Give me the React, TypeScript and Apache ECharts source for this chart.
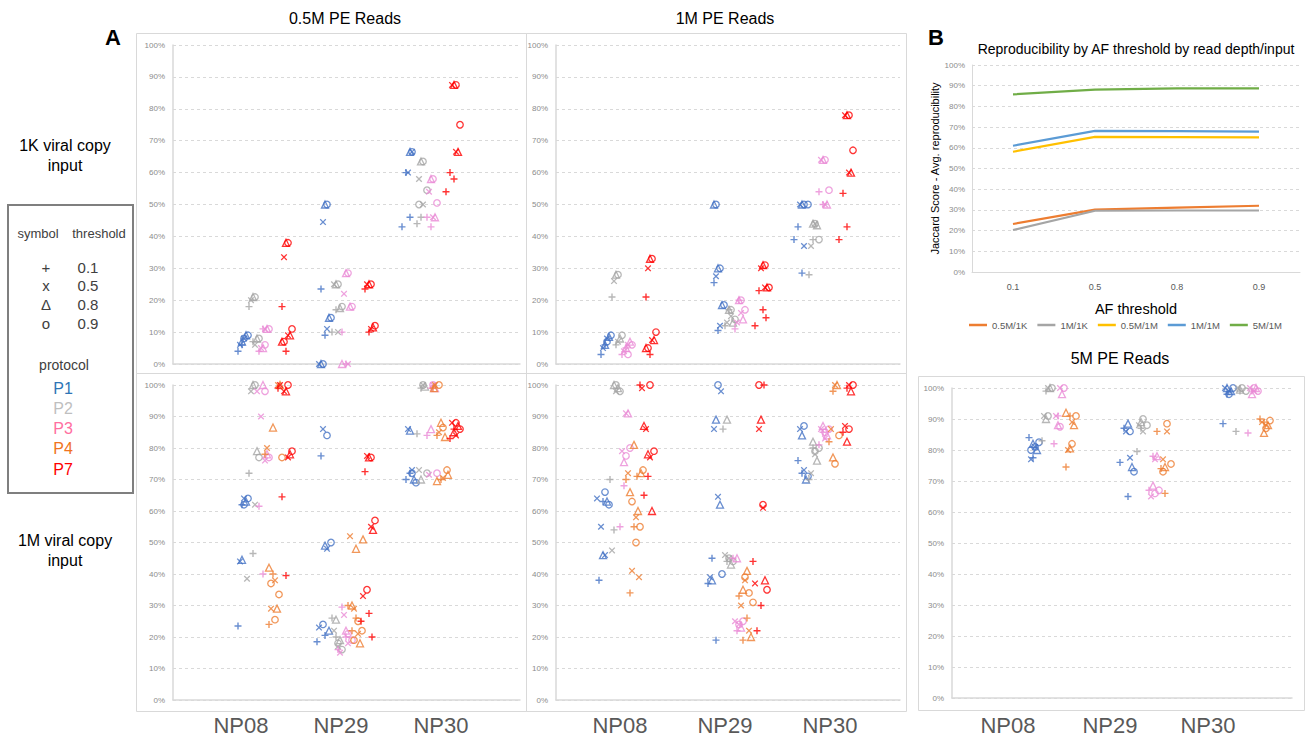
import React, { useEffect, useRef } from "react";
import * as echarts from "echarts";

const samples = ["NP08", "NP29", "NP30"];
const protocols = ["P1", "P2", "P3", "P4", "P7"];
const thresholds = ["0.1", "0.5", "0.8", "0.9"];

// Jaccard scores (%) — [sample][threshold: +,x,Δ,o] => replicate values
// 0.5M PE reads / 1K viral copy input
const pe05k_P1 = [
  [[4, 6], [6, 8], [7, 9], [8, 9]],
  [[23.5, 9], [44.5, 11, 0], [50, 14.5, 0], [50, 14.5, 0]],
  [[60, 46, 43], [60, 66.5], [66.5], [66.5]],
];
const pe05k_P2 = [
  [[18, 7], [20, 6], [21, 8], [21, 8]],
  [[10, 17], [25, 10], [25, 17.5], [25, 18]],
  [[44, 46], [58, 50], [63.5], [63.5, 54.5, 50]],
];
const pe05k_P3 = [
  [[4, 11], [5, 11], [5, 11], [6, 11]],
  [[10, 0], [22, 0], [28.5, 18, 0], [28.5, 18]],
  [[46, 43], [54, 46], [58, 46], [58, 50.5]],
];
const pe05k_P7 = [
  [[18, 4], [33.5, 9], [38, 9, 7], [38, 11, 7]],
  [[23.5, 10], [25, 11], [25, 11.5], [25, 12]],
  [[60, 58, 54], [87.5, 66.5], [87.5, 66.5], [87.5, 75]],
];
// 0.5M PE reads / 1M viral copy input
const pe05m_P1 = [
  [[23.5, 62], [44, 64], [44.5, 63], [62, 64]],
  [[77.5, 20.5, 18.5], [86, 48, 23], [49, 22], [84, 50, 24]],
  [[70, 72], [86, 73], [85.5, 70], [72, 69]],
];
const pe05m_P2 = [
  [[72, 46.5], [98, 62, 38.5], [100, 79], [100, 77]],
  [[26, 20], [22, 17], [25.5, 19], [18, 16]],
  [[84.5, 99], [73, 100], [70, 99.5], [100, 72]],
];
const pe05m_P3 = [
  [[61.5, 40], [90, 76, 98], [100, 78], [98, 77]],
  [[29.5, 20, 16], [27, 18, 15], [22], [21, 19]],
  [[84, 99], [71.5, 100], [86, 99], [100, 72]],
];
const pe05m_P4 = [
  [[24, 40, 78], [29, 38, 80, 100], [86.5, 29, 42, 100], [25.5, 33.5, 37, 77]],
  [[22, 26, 30], [29, 21, 52], [48, 18, 30, 51], [25, 22, 19]],
  [[84, 70, 99], [85, 70.5, 100], [88, 83.5, 69.5, 71.5, 99], [86.5, 73, 100]],
];
const pe05m_P7 = [
  [[64.5, 39.5, 99], [98, 77, 100], [98, 78], [100, 79]],
  [[72.5, 27.5, 25, 20], [77.5, 55, 33], [77, 54], [77, 57, 35]],
  [[83, 86], [88, 84], [85, 87], [88, 86]],
];
// 1M PE reads / 1K viral copy input
const pe1k_P1 = [
  [[3, 6], [5, 8], [6, 8.5], [7, 9]],
  [[25.5, 10.5], [27.5, 12], [30, 18.5, 50], [30, 18.5, 50]],
  [[43, 28.5, 39], [50, 37], [50], [50, 50]],
];
const pe1k_P2 = [
  [[21, 6], [26, 7], [28, 8], [28, 9]],
  [[12, 17], [13, 15], [17, 13], [17, 14]],
  [[28, 39], [37, 44], [44, 43.5], [44, 39]],
];
const pe1k_P3 = [
  [[3, 5], [4, 6], [5, 7], [3, 6]],
  [[11, 20], [13, 16], [20, 14], [20, 17]],
  [[54, 50], [64, 50], [64, 50], [64, 54.5]],
];
const pe1k_P7 = [
  [[21, 3], [30, 7.5], [33, 7.5, 5], [33, 10, 5]],
  [[23, 17, 12, 14.5], [30, 24], [31, 24], [31, 24]],
  [[53.5, 43, 39], [78, 60], [78, 60], [78, 67]],
];
// 1M PE reads / 1M viral copy input
const pe1m_P1 = [
  [[38, 63], [55, 46, 64], [46, 63], [66, 62]],
  [[45, 19, 37], [86, 64.5, 39, 98], [89, 62, 38], [100, 40]],
  [[76, 72], [86, 73], [84, 70], [87, 71]],
];
const pe1m_P2 = [
  [[70, 54], [47.5, 98], [100, 99], [100, 98]],
  [[86, 44], [46, 45], [89, 43], [45, 44]],
  [[70, 80], [72, 78], [82, 76], [79, 80]],
];
const pe1m_P3 = [
  [[55, 68], [79, 91], [75.5, 91], [77.5, 80]],
  [[45, 22], [25, 24], [45, 23], [24, 25]],
  [[81, 85], [86, 83], [87, 84], [85, 86]],
];
const pe1m_P4 = [
  [[34, 55, 70, 71], [41, 58, 72, 39], [81, 60, 66, 72], [50, 55, 63, 73]],
  [[19, 26, 33], [38, 22, 30], [41, 20, 35], [34, 31, 39]],
  [[82, 98], [86, 100], [77, 100], [75, 84]],
];
const pe1m_P7 = [
  [[65, 71, 100], [86, 77, 99], [78, 60, 87], [100, 79]],
  [[22, 30, 44, 100], [86, 61, 37], [89, 38], [62, 35, 100]],
  [[85, 99], [87, 100], [82, 98], [86, 100]],
];
// 5M PE reads / 1M viral copy input
const pe5m_P1 = [
  [[84, 77.5], [77, 81], [82, 80], [81, 82.5, 80]],
  [[87, 65, 76], [86, 77.5], [88.5, 74.5], [86, 73]],
  [[88.5, 98], [100, 99], [100, 99], [98, 100]],
];
const pe5m_P2 = [
  [[83, 99], [91, 100], [90, 100], [91, 100]],
  [[79.5, 87], [88, 86], [89], [90, 88]],
  [[86, 99], [100], [99.5], [100, 99]],
];
const pe5m_P3 = [
  [[82, 91], [91, 100], [88, 98], [87.5, 100]],
  [[67, 78], [65, 77], [68.5, 78], [66, 67]],
  [[85.5, 99], [100, 99], [98, 100], [100, 99]],
];
const pe5m_P4 = [
  [[74.5, 91], [80, 89], [80.5, 88, 92], [82, 91]],
  [[74, 66, 86], [77, 86], [74.5], [88.5, 75.5, 73]],
  [[90, 89], [89, 88], [85.5, 88], [87, 89.5]],
];

// Panel B: average reproducibility by AF threshold
const afThresholds = ["0.1", "0.5", "0.8", "0.9"];
const line05M1K = [23.2, 30.1, 31.1, 32.0];
const line1M1K = [20.3, 29.6, 29.7, 29.7];
const line05M1M = [58.1, 65.3, 65.2, 65.0];
const line1M1M = [61.0, 68.2, 68.1, 67.8];
const line5M1M = [85.8, 88.1, 88.7, 88.7];

const FONT = "Liberation Sans, Arial, sans-serif";
const PROTO_COLORS = ["#4472C4", "#A5A5A5", "#EA8BD6", "#ED7D31", "#FF0000"];
const PROTO_TEXT = ["#2E75B6", "#BFBFBF", "#FF6F9F", "#F07320", "#FF0000"];
const PLUS = "path://M4,0H6V4H10V6H6V10H4V6H0V4H4Z";
const CROSS = "path://M1.4,0L5,3.6L8.6,0L10,1.4L6.4,5L10,8.6L8.6,10L5,6.4L1.4,10L0,8.6L3.6,5L0,1.4Z";
const SYMBOLS = [PLUS, CROSS, "triangle", "circle"];
const SYM_SIZE = [7, 6.5, 7, 6.5];
const THR_JIT = [-3, -1, 1, 3];
const REP_JIT = [0, 4, -4, 7, -7, 2];

// layout: hidden x axis runs in pixel units across each grid
type Panel = {
  grid: { left: number; top: number; width: number; height: number };
  centers: number[];
  offs: number[];
  data: (number[][][] | null)[];
};

const scatterPanels: Panel[] = [
  { grid: { left: 173, top: 45, width: 347, height: 319 }, centers: [262, 345, 430], offs: [-21, -10, 0, 10, 23], data: [pe05k_P1, pe05k_P2, pe05k_P3, null, pe05k_P7] },
  { grid: { left: 173, top: 385, width: 347, height: 315 }, centers: [262, 345, 430], offs: [-21, -10, 0, 10, 23], data: [pe05m_P1, pe05m_P2, pe05m_P3, pe05m_P4, pe05m_P7] },
  { grid: { left: 556, top: 45, width: 344, height: 319 }, centers: [625, 738, 822], offs: [-21, -10, 0, 10, 24], data: [pe1k_P1, pe1k_P2, pe1k_P3, null, pe1k_P7] },
  { grid: { left: 556, top: 385, width: 344, height: 315 }, centers: [623, 736, 822], offs: [-21, -10, 0, 10, 24], data: [pe1m_P1, pe1m_P2, pe1m_P3, pe1m_P4, pe1m_P7] },
  { grid: { left: 952, top: 388, width: 340, height: 310 }, centers: [1057, 1152, 1251], offs: [-25, -12, 0, 12], data: [pe5m_P1, pe5m_P2, pe5m_P3, pe5m_P4] },
];

const lineGridIndex = 5;

function buildOption() {
  const grids: any[] = [];
  const xAxes: any[] = [];
  const yAxes: any[] = [];
  const series: any[] = [];

  const yBase = (gi: number) => ({
    gridIndex: gi,
    type: "value",
    min: 0,
    max: 100,
    interval: 10,
    axisLabel: { formatter: "{value}%", fontSize: 8, color: "#8C8C8C", fontFamily: FONT, margin: 8 },
    axisLine: { show: true, onZero: false, lineStyle: { color: "#D9D9D9", width: 1.5 } },
    axisTick: { show: false },
    splitLine: { show: true, lineStyle: { color: "#D9D9D9", type: [3, 3], width: 1 } },
  });

  scatterPanels.forEach((p, gi) => {
    grids.push({ ...p.grid });
    xAxes.push({
      gridIndex: gi,
      type: "value",
      min: p.grid.left,
      max: p.grid.left + p.grid.width,
      axisLabel: { show: false },
      axisTick: { show: false },
      splitLine: { show: false },
      axisLine: { show: true, onZero: false, lineStyle: { color: "#D9D9D9", width: 1.5 } },
    });
    yAxes.push(yBase(gi));
    p.data.forEach((arr, pi) => {
      if (!arr) return;
      const color = PROTO_COLORS[pi];
      thresholds.forEach((_, ti) => {
        const pts: number[][] = [];
        arr.forEach((bySample, si) => {
          bySample[ti].forEach((v, k) => {
            const x = p.centers[si] + p.offs[pi] + THR_JIT[ti] + REP_JIT[k % REP_JIT.length];
            pts.push([x, v]);
          });
        });
        const outlined = ti >= 2;
        series.push({
          type: "scatter",
          name: `${protocols[pi]}-${thresholds[ti]}-${gi}`,
          xAxisIndex: gi,
          yAxisIndex: gi,
          data: pts,
          symbol: SYMBOLS[ti],
          symbolSize: SYM_SIZE[ti],
          silent: true,
          itemStyle: outlined
            ? { color: "rgba(0,0,0,0)", borderColor: color, borderWidth: 1.3 }
            : { color, borderWidth: 0 },
        });
      });
    });
  });

  // Line chart (panel B)
  grids.push({ left: 972, top: 65, width: 328, height: 207 });
  xAxes.push({
    gridIndex: lineGridIndex,
    type: "category",
    data: afThresholds,
    boundaryGap: true,
    axisLabel: { fontSize: 9, color: "#595959", fontFamily: FONT, margin: 10 },
    axisTick: { show: false },
    axisLine: { show: true, lineStyle: { color: "#D9D9D9", width: 1 } },
    name: "AF threshold",
    nameLocation: "middle",
    nameGap: 29,
    nameTextStyle: { fontSize: 14.5, color: "#000000", fontFamily: FONT },
  });
  yAxes.push({
    ...yBase(lineGridIndex),
    axisLabel: { formatter: "{value}%", fontSize: 8, color: "#8C8C8C", fontFamily: FONT, margin: 7 },
    axisLine: { show: true, onZero: false, lineStyle: { color: "#D9D9D9", width: 1 } },
    name: "Jaccard Score - Avg. reproducibility",
    nameLocation: "middle",
    nameGap: 27,
    nameRotate: 90,
    nameTextStyle: { fontSize: 11, color: "#000000", fontFamily: FONT },
  });
  const lines: [string, number[], string][] = [
    ["0.5M/1K", line05M1K, "#ED7D31"],
    ["1M/1K", line1M1K, "#A5A5A5"],
    ["0.5M/1M", line05M1M, "#FFC000"],
    ["1M/1M", line1M1M, "#5B9BD5"],
    ["5M/1M", line5M1M, "#70AD47"],
  ];
  lines.forEach(([name, vals, color]) => {
    series.push({
      type: "line",
      name,
      xAxisIndex: lineGridIndex,
      yAxisIndex: lineGridIndex,
      data: vals,
      symbol: "none",
      color,
      lineStyle: { color, width: 2.2 },
      silent: true,
    });
  });

  const txt = (text: string, x: number, y: number, fontSize: number, fill = "#000000", fontWeight: any = "normal", align = "center") => ({
    type: "text",
    silent: true,
    style: {
      text,
      x,
      y,
      fontSize,
      fontWeight,
      fontFamily: FONT,
      fill,
      textAlign: align,
      textVerticalAlign: "middle",
      verticalAlign: "middle",
    },
  });
  const box = (x: number, y: number, w: number, h: number, stroke = "#D9D9D9", lw = 1) => ({
    type: "rect",
    silent: true,
    shape: { x, y, width: w, height: h },
    style: { fill: "none", stroke, lineWidth: lw },
    z: -1,
  });

  const graphic: any[] = [
    box(136.5, 33.5, 390, 340),
    box(136.5, 373.5, 390, 338),
    box(526.5, 33.5, 380, 340),
    box(526.5, 373.5, 380, 338),
    box(918.5, 376.5, 386, 334),
    box(8, 205, 125, 288, "#7F7F7F", 2),
    txt("0.5M PE Reads", 345, 18, 16),
    txt("1M PE Reads", 725, 18, 16),
    txt("5M PE Reads", 1120, 358, 16),
    txt("Reproducibility by AF threshold by read depth/input", 1136, 49, 14),
    txt("A", 113, 37, 22, "#000000", "bold"),
    txt("B", 936, 37, 22, "#000000", "bold"),
    txt("1K viral copy", 65, 145, 16),
    txt("input", 65, 165, 16),
    txt("1M viral copy", 65, 540, 16),
    txt("input", 65, 560, 16),
    txt("symbol", 38, 233, 13, "#404040"),
    txt("threshold", 99, 233, 13, "#404040"),
    txt("protocol", 64, 365, 14, "#404040"),
  ];
  const legSyms = ["+", "x", "Δ", "o"];
  thresholds.forEach((t, i) => {
    const y = 267 + i * 18.7;
    graphic.push(txt(legSyms[i], 46, y, 15, "#404040"));
    graphic.push(txt(t, 88, y, 15, "#404040"));
  });
  protocols.forEach((p, i) => {
    graphic.push(txt(p, 63, 388 + i * 20.3, 16, PROTO_TEXT[i]));
  });
  const labelX = [
    [241, 341, 441],
    [620, 725, 830],
    [1008, 1110, 1208],
  ];
  labelX.forEach((row) => {
    row.forEach((x, i) => graphic.push(txt(samples[i], x, 725, 22, "#595959")));
  });

  return {
    animation: false,
    grid: grids,
    xAxis: xAxes,
    yAxis: yAxes,
    series,
    legend: {
      data: lines.map((l) => l[0]),
      left: 964,
      top: 315,
      icon: "rect",
      itemWidth: 18,
      itemHeight: 2.5,
      itemGap: 10,
      textStyle: { fontSize: 9.5, color: "#595959", fontFamily: FONT },
      selectedMode: false,
    },
    graphic,
  };
}

export default function App() {
  const ref = useRef<HTMLDivElement>(null);
  useEffect(() => {
    if (!ref.current) return;
    const chart = echarts.init(ref.current, undefined, { renderer: "svg" });
    chart.setOption(buildOption() as any);
    return () => chart.dispose();
  }, []);
  return (
    <div
      ref={ref}
      style={{ position: "fixed", left: 0, top: 0, width: 1309, height: 736, background: "#ffffff" }}
    />
  );
}
